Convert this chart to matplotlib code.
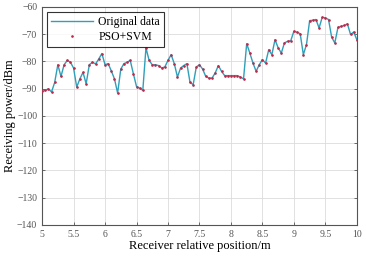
import numpy as np
import matplotlib
matplotlib.use("Agg")
import matplotlib.pyplot as plt

plt.rcParams['font.family'] = ['Liberation Serif', 'DejaVu Serif']

# receiver positions (m), 0.05 m steps
position = np.arange(101) * 0.05 + 5.0

# measured receiving power (dBm)
original = [
    -91.0, -90.6, -90.0, -91.2, -87.7, -81.2, -85.5, -81.2, -79.6, -80.3,
    -82.4, -89.4, -86.4, -84.0, -88.2, -81.2, -80.3, -80.9, -79.1, -77.1,
    -81.2, -80.8, -83.5, -86.4, -91.6, -82.8, -80.8, -80.3, -79.6, -84.5,
    -89.2, -89.8, -90.6, -75.0, -79.6, -81.2, -81.2, -81.5, -82.4, -82.0,
    -79.6, -77.5, -80.8, -85.7, -82.4, -81.5, -80.8, -87.7, -88.5, -82.0,
    -81.2, -82.8, -85.5, -86.1, -86.1, -84.2, -81.5, -83.6, -85.2, -85.2,
    -85.2, -85.2, -85.2, -85.7, -86.4, -73.5, -76.9, -80.6, -83.6, -81.2,
    -79.3, -80.6, -75.7, -77.5, -72.0, -75.0, -76.9, -73.2, -72.6, -72.4,
    -68.9, -69.3, -69.8, -77.5, -73.8, -65.0, -64.9, -64.6, -67.7, -63.8,
    -64.0, -64.6, -71.1, -73.2, -67.5, -67.1, -66.8, -66.2, -70.1, -69.2,
    -72.0,
]

# PSO+SVM prediction (sits on top of the measured values)
predicted = list(original)

x_ticks = [5, 5.5, 6, 6.5, 7, 7.5, 8, 8.5, 9, 9.5, 10]
x_labels = ['5', '5.5', '6', '6.5', '7', '7.5', '8', '8.5', '9', '9.5', '10']
y_ticks = [-140, -130, -120, -110, -100, -90, -80, -70, -60]

fig = plt.figure(figsize=(3.66, 2.58), dpi=100)
ax = fig.add_axes([0.115, 0.128, 0.86, 0.845])

ax.plot(position, original, color='#2f9fba', linewidth=1.0, label='Original data', zorder=3)
ax.plot(position, predicted, linestyle='none', marker='.', markersize=1.8,
        color='#c02848', label='PSO+SVM', zorder=4)

ax.set_xlim(5, 10)
ax.set_ylim(-140, -60)
ax.set_xticks(x_ticks)
ax.set_xticklabels(x_labels)
ax.set_yticks(y_ticks)
ax.grid(True, color='#dcdcdc', linewidth=0.6)
ax.set_axisbelow(True)

ax.tick_params(direction='in', length=2.5, width=0.6, labelsize=7, colors='#555555',
               top=False, right=True)
for s in ax.spines.values():
    s.set_color('#555555')
    s.set_linewidth(0.8)

ax.set_xlabel('Receiver relative position/m', fontsize=9, labelpad=1)
ax.set_ylabel('Receiving power/dBm', fontsize=9, labelpad=1)

leg = ax.legend(loc='upper left', fontsize=8.5, frameon=True, fancybox=False,
                borderpad=0.35, labelspacing=0.25, handlelength=3.6, handletextpad=0.4,
                borderaxespad=0.4)
leg.get_frame().set_edgecolor('black')
leg.get_frame().set_linewidth(0.8)

fig.savefig('out.png', dpi=100)
